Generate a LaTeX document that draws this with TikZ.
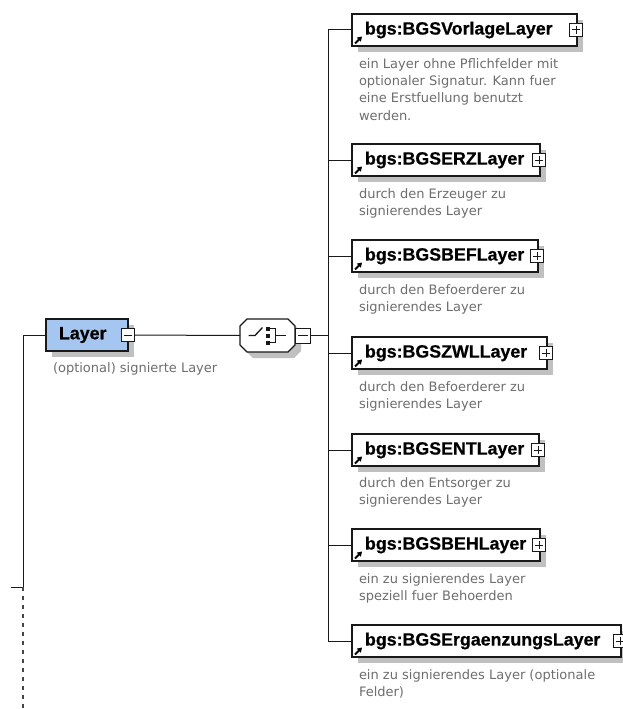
\documentclass[tikz,border=0pt]{standalone}
\usepackage{fontspec}
\setmainfont{Liberation Sans}
\newfontfamily\titlefont[BoldFeatures={FakeBold=0.6}]{Liberation Sans}
\newfontfamily\descfont{DejaVu Sans}
\usetikzlibrary{shadows,arrows.meta,calc}
\definecolor{lineblack}{RGB}{25,25,25}
\definecolor{shadowgray}{RGB}{192,192,192}
\definecolor{layerblue}{RGB}{164,198,240}
\definecolor{descgray}{RGB}{110,110,110}
\definecolor{dashgray}{RGB}{70,70,70}
\begin{document}
\begin{tikzpicture}[x=1pt,y=-1pt,
  conn/.style={draw=lineblack, line width=1pt},
  dashline/.style={draw=dashgray, line width=2pt, dash pattern=on 4pt off 5pt},
  myshadow/.style={drop shadow={shadow xshift=6pt, shadow yshift=-6pt, fill=shadowgray, opacity=1}},
  elbox/.style={draw=lineblack, line width=1.4pt, fill=white, anchor=west, outer sep=0pt,
    minimum height=32pt, inner ysep=0pt, inner xsep=13pt, align=left,
    font=\titlefont\bfseries\fontsize{17.8}{20}\selectfont, myshadow},
  seqbox/.style={minimum width=55pt, minimum height=33pt, inner sep=0pt, outer sep=0pt},
  pmbox/.style={draw=lineblack, line width=1pt, fill=white, minimum size=13pt, inner sep=0pt, outer sep=0pt},
  minusbox/.style={pmbox, path picture={
    \draw[line width=1pt] ([xshift=2.5pt]path picture bounding box.west) -- ([xshift=-2.5pt]path picture bounding box.east);}},
  plusbox/.style={pmbox, path picture={
    \draw[line width=1pt] ([xshift=2.5pt]path picture bounding box.west) -- ([xshift=-2.5pt]path picture bounding box.east);
    \draw[line width=1pt] ([yshift=-2.5pt]path picture bounding box.north) -- ([yshift=2.5pt]path picture bounding box.south);}},
  desc/.style={anchor=base west, inner sep=0pt, outer sep=0pt, text=descgray,
    font=\descfont\fontsize{13}{17.5}\selectfont},
  glyph/.style={draw=black, line width=1.8pt, -{Triangle[length=4.5pt,width=5.5pt]}},
  sym/.style={draw=lineblack, line width=1.3pt}
]
\useasboundingbox (0,0) rectangle (623,709);
\fill[white] (0,0) rectangle (623,709);
\clip (0,0) rectangle (623,709);

% Layer element
\node[elbox, fill=layerblue, minimum width=82pt, text width=56pt] (layer) at (46,335) {Layer};
\node[minusbox] (layerm) at ([xshift=-0.5pt]layer.east) {};
\node[desc] (layerd) at (53,372.5) {\parbox[t]{220pt}{(optional) signierte Layer}};

% sequence compositor
\node[seqbox] (seq) at (267.5,335.5) {};
\fill[shadowgray] ($(seq.north west)+(6,6)$) -- ($(seq.north east)+(-1,6)$) -- ($(seq.north east)+(6,13)$) -- ($(seq.south east)+(6,-1)$)
  -- ($(seq.south east)+(-1,6)$) -- ($(seq.south west)+(13,6)$) -- ($(seq.south west)+(6,-1)$) -- ($(seq.north west)+(6,13)$) -- cycle;
\draw[draw=lineblack, line width=1.4pt, fill=white] ($(seq.north west)+(7,0)$) -- ($(seq.north east)+(-7,0)$) -- ($(seq.north east)+(0,7)$)
  -- ($(seq.south east)+(0,-7)$) -- ($(seq.south east)+(-7,0)$) -- ($(seq.south west)+(7,0)$) -- ($(seq.south west)+(0,-7)$)
  -- ($(seq.north west)+(0,7)$) -- cycle;
\node[minusbox, minimum size=15pt, anchor=west] (seqm) at (seq.east) {};
\draw[sym] ($(seq.center)+(-19,0)$) -- ($(seq.center)+(-12.5,0)$) -- ($(seq.center)+(-5,-8)$);
\fill[lineblack] ($(seq.center)+(-1.5,-9)$) rectangle ($(seq.center)+(2.5,-5)$);
\fill[lineblack] ($(seq.center)+(-1.5,-2)$) rectangle ($(seq.center)+(2.5,2)$);
\fill[lineblack] ($(seq.center)+(-1.5,5)$) rectangle ($(seq.center)+(2.5,9)$);
\draw[sym] ($(seq.center)+(2.5,-7)$) -- ($(seq.center)+(8,-7)$) -- ($(seq.center)+(8,7)$) -- ($(seq.center)+(2.5,7)$);
\draw[sym] ($(seq.center)+(8,0)$) -- ($(seq.center)+(18,0)$);

% children
\node[elbox, minimum width=225pt, text width=199pt] (c1) at (352,30) {bgs:BGSVorlageLayer};
\node[elbox, minimum width=188pt, text width=162pt] (c2) at (352,160) {bgs:BGSERZLayer};
\node[elbox, minimum width=186pt, text width=160pt] (c3) at (352,256) {bgs:BGSBEFLayer};
\node[elbox, minimum width=195pt, text width=169pt] (c4) at (352,353) {bgs:BGSZWLLayer};
\node[elbox, minimum width=187pt, text width=161pt] (c5) at (352,450) {bgs:BGSENTLayer};
\node[elbox, minimum width=188pt, text width=162pt] (c6) at (352,545) {bgs:BGSBEHLayer};
\node[elbox, minimum width=269pt, text width=243pt] (c7) at (352,641) {bgs:BGSErgaenzungsLayer};

\foreach \c in {c1,c2,c3,c4,c5,c6,c7}{
  \node[plusbox] (\c p) at ([xshift=-1pt]\c.east) {};
  \draw[glyph] ([xshift=3pt,yshift=2.5pt]\c.south west) -- ++(7,-7);
}

\node[desc] (d1) at (359,68) {\parbox[t]{250pt}{ein Layer ohne Pflichfelder mit\\optionaler Signatur. Kann fuer\\eine Erstfuellung benutzt\\werden.}};
\node[desc] (d2) at (359,198) {\parbox[t]{250pt}{durch den Erzeuger zu\\signierendes Layer}};
\node[desc] (d3) at (359,294) {\parbox[t]{250pt}{durch den Befoerderer zu\\signierendes Layer}};
\node[desc] (d4) at (359,391) {\parbox[t]{250pt}{durch den Befoerderer zu\\signierendes Layer}};
\node[desc] (d5) at (359,487) {\parbox[t]{250pt}{durch den Entsorger zu\\signierendes Layer}};
\node[desc] (d6) at (359,583) {\parbox[t]{250pt}{ein zu signierendes Layer\\speziell fuer Behoerden}};
\node[desc] (d7) at (359,679) {\parbox[t]{260pt}{ein zu signierendes Layer (optionale\\Felder)}};

% connectors
\coordinate (lt) at (23,335);
\coordinate (lb) at (23,587);
\coordinate (lk) at (11,587);
\coordinate (le) at (23,712);
\coordinate (tr) at (328,335.5);
\draw[conn] (layer.west) -- (lt) -- (lb) -- (lk);
\draw[dashline] (lb) -- (le);
\draw[conn] (layerm.east) -- (seq.west);
\draw[conn] (seqm.east) -- (tr);
\draw[conn] (c1.west) -- (c1.west -| tr) -- (c7.west -| tr) -- (c7.west);
\foreach \c in {c2,c3,c4,c5,c6}{
  \draw[conn] (\c.west -| tr) -- (\c.west);
}
\end{tikzpicture}
\end{document}
